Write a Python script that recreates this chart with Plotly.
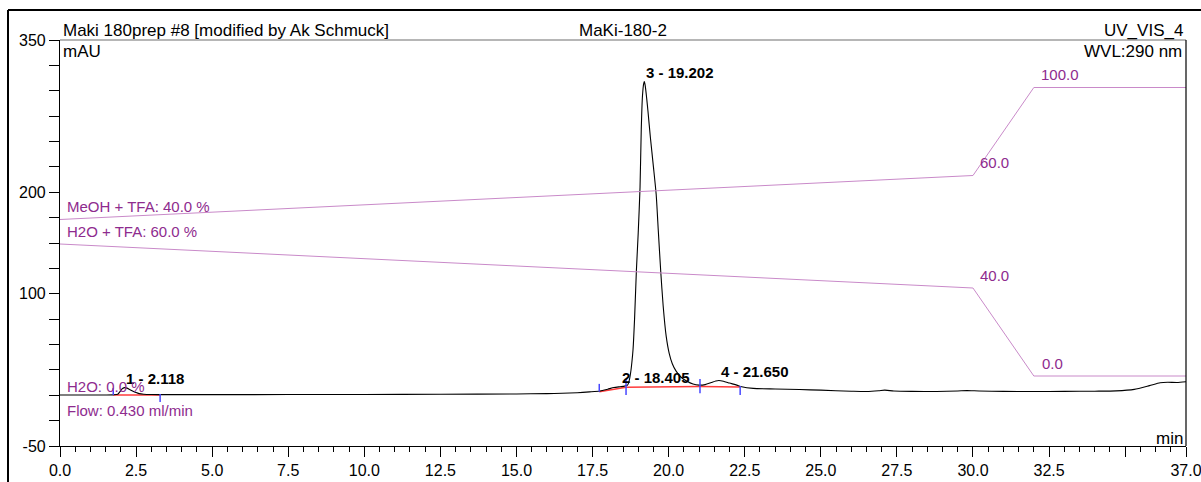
import numpy as np
import plotly.graph_objects as go

# ---- detector trace, UV_VIS_4 (290 nm) ----
time_min = [
    0.0, 0.5, 1.0, 1.5, 1.75, 1.9, 1.97, 2.03, 2.118, 2.2, 2.3, 2.4, 2.5, 2.6, 2.75,
    3.0, 3.5, 5.0, 7.5, 10.0, 12.5, 15.0, 16.0, 16.5, 17.0, 17.4, 17.75, 18.0, 18.2,
    18.405, 18.55, 18.65, 18.70, 18.75, 18.79, 18.83, 18.88, 18.94, 19.00, 19.06,
    19.10, 19.14, 19.18, 19.202, 19.23, 19.28, 19.32, 19.40, 19.50, 19.59, 19.66,
    19.74, 19.82, 19.92, 20.02, 20.12, 20.24, 20.40, 20.59, 20.80, 21.0, 21.2, 21.4,
    21.55, 21.65, 21.8, 22.0, 22.24, 22.4, 22.78, 23.5, 24.3, 25.0, 26.0, 26.5, 26.9,
    27.1, 27.4, 28.0, 28.8, 29.5, 29.8, 30.2, 31.0, 32.0, 33.0, 34.0, 34.7, 35.3,
    35.8, 36.15, 36.4, 36.7, 37.0,
]
signal_mau = [
    0.3, 0.3, 0.3, 0.3, 0.4, 1.0, 3.5, 6.0, 7.5, 7.0, 5.5, 4.0, 2.6, 1.6, 1.0,
    0.7, 0.6, 0.6, 0.7, 0.8, 1.0, 1.3, 1.6, 2.0, 2.5, 3.3, 4.2, 6.0, 7.6,
    8.4, 9.0, 10.0, 14.0, 22.0, 32.0, 45.0, 75.0, 123.0, 160.0, 205.0,
    262.0, 295.0, 307.0, 309.0, 305.0, 292.0, 280.0, 254.0, 225.0, 198.0, 162.0,
    122.0, 88.0, 58.0, 41.0, 31.0, 24.0, 18.0, 14.0, 11.0, 10.0, 10.5, 12.5,
    14.0, 14.5, 13.8, 12.0, 10.0, 8.4, 6.8, 6.2, 5.6, 5.0, 4.0, 3.7, 4.4,
    5.0, 4.2, 3.8, 3.7, 4.2, 4.6, 4.2, 3.8, 3.7, 3.8, 4.0, 4.3, 5.8,
    9.5, 12.3, 12.8, 12.5, 13.3,
]

# ---- gradient program ----
grad_time = [0.0, 30.0, 32.0, 37.0]
meoh_tfa_pct = [40.0, 60.0, 100.0, 100.0]
h2o_tfa_pct = [60.0, 40.0, 0.0, 0.0]

# ---- integration results ----
peak_no = [1, 2, 3, 4]
peak_rt = [2.118, 18.405, 19.202, 21.650]

delim_time = [1.75, 3.29, 17.72, 18.60, 21.03, 22.35]
delim_low = [0.3, -6.6, 3.5, 0.3, 1.9, 0.3]
delim_high = [7.2, 1.3, 11.2, 16.0, 16.0, 9.1]

base1_time = [1.75, 3.29]
base1_mau = [0.3, 0.3]
base2_time = [17.72, 18.60, 21.03, 22.35]
base2_mau = [3.5, 7.8, 8.5, 8.2]

# ---- axis ticks ----
x_ticks = [0.0, 2.5, 5.0, 7.5, 10.0, 12.5, 15.0, 17.5, 20.0, 22.5, 25.0,
           27.5, 30.0, 32.5, 35.0, 37.0]
x_tick_text = ["0.0", "2.5", "5.0", "7.5", "10.0", "12.5", "15.0", "17.5", "20.0",
               "22.5", "25.0", "27.5", "30.0", "32.5", "", "37.0"]
y_ticks = list(range(-50, 351, 25))
y_labelled = {350: "350", 200: "200", 100: "100", -50: "-50"}
y_tick_text = [y_labelled.get(v, "") for v in y_ticks]

FONT = "Liberation Sans, Arial, sans-serif"
PURPLE_TXT = "#8e2b8e"
PURPLE_LN = "#c98ac9"
DELIM = "#4747ff"

# plot-area geometry in pixels
W, H = 1201, 482
L, R, T, B = 60, 1186, 40, 446


def px_x(px):
    return (px - L) / (R - L)


def px_y(py):
    return (B - py) / (B - T)


fig = go.Figure()

# gradient curves on their own percent scales
fig.add_trace(go.Scatter(x=grad_time, y=meoh_tfa_pct, mode="lines", yaxis="y2",
                         line=dict(color=PURPLE_LN, width=1), hoverinfo="skip"))
fig.add_trace(go.Scatter(x=grad_time, y=h2o_tfa_pct, mode="lines", yaxis="y3",
                         line=dict(color=PURPLE_LN, width=1), hoverinfo="skip"))

# peak baselines
fig.add_trace(go.Scatter(x=base1_time, y=base1_mau, mode="lines",
                         line=dict(color="#ff3b3b", width=1.5)))
fig.add_trace(go.Scatter(x=base2_time, y=base2_mau, mode="lines",
                         line=dict(color="#ff3b3b", width=1.5)))

# chromatogram
fig.add_trace(go.Scatter(x=time_min, y=signal_mau, mode="lines",
                         line=dict(color="black", width=1.1, shape="spline", smoothing=0.6)))

# peak delimiters
dx, dy = [], []
for t, lo, hi in zip(delim_time, delim_low, delim_high):
    dx += [t, t, None]
    dy += [lo, hi, None]
fig.add_trace(go.Scatter(x=dx, y=dy, mode="lines", line=dict(color=DELIM, width=1.5)))

ann = []

# peak labels
peak_h = np.interp(peak_rt, time_min, signal_mau)
for n, rt, h in zip(peak_no, peak_rt, peak_h):
    ann.append(dict(x=rt, y=h, xref="x", yref="y", text=f"{n} - {rt:.3f}",
                    xanchor="left", yanchor="middle", yshift=9, showarrow=False,
                    font=dict(family=FONT, size=15, color="black", weight="bold")))

# gradient step labels
for t, p, xs in [(30.0, 60.0, 5), (32.0, 100.0, 5)]:
    ann.append(dict(x=t, y=p, xref="x", yref="y2", text=f"{p:.1f}", xanchor="left",
                    yanchor="middle", xshift=xs, yshift=13, showarrow=False,
                    font=dict(family=FONT, size=15, color=PURPLE_TXT)))
for t, p, xs in [(30.0, 40.0, 5), (32.0, 0.0, 6)]:
    ann.append(dict(x=t, y=p, xref="x", yref="y3", text=f"{p:.1f}", xanchor="left",
                    yanchor="middle", xshift=xs, yshift=13, showarrow=False,
                    font=dict(family=FONT, size=15, color=PURPLE_TXT)))

# gradient / pump information on the left
for txt, yc in [(f"MeOH + TFA: {meoh_tfa_pct[0]:.1f} %", 206.7),
                (f"H2O + TFA: {h2o_tfa_pct[0]:.1f} %", 231.7),
                ("H2O: 0.0 %", 386.7),
                ("Flow: 0.430 ml/min", 410.5)]:
    ann.append(dict(x=px_x(65), y=px_y(yc), xref="paper", yref="paper", text=txt,
                    xanchor="left", yanchor="middle", showarrow=False,
                    font=dict(family=FONT, size=15, color=PURPLE_TXT)))

# header texts and axis units
for txt, xp, anchor, yc in [("Maki 180prep #8 [modified by Ak Schmuck]", 61, "left", 31),
                            ("MaKi-180-2", 622.5, "center", 31),
                            ("UV_VIS_4", 1185, "right", 31),
                            ("mAU", 61, "left", 51),
                            ("WVL:290 nm", 1184, "right", 51),
                            ("min", 1185, "right", 438.5)]:
    ann.append(dict(x=px_x(xp), y=px_y(yc), xref="paper", yref="paper", text=txt,
                    xanchor=anchor, yanchor="middle", showarrow=False,
                    font=dict(family=FONT, size=17, color="black")))

shapes = [
    # frame of the plot area
    dict(type="line", xref="paper", yref="paper", x0=0, x1=1, y0=1, y1=1,
         line=dict(color="#6e6e6e", width=1.2)),
    dict(type="line", xref="paper", yref="paper", x0=1, x1=1, y0=0, y1=1,
         line=dict(color="black", width=1.2)),
    # outer page border
    dict(type="line", xref="paper", yref="paper", x0=px_x(8), x1=px_x(1215),
         y0=px_y(10), y1=px_y(10), line=dict(color="black", width=2)),
    dict(type="line", xref="paper", yref="paper", x0=px_x(8), x1=px_x(8),
         y0=px_y(10), y1=px_y(500), line=dict(color="black", width=2)),
]

meoh_top = (307.5 - T) / 2.2
meoh_bot = (307.5 - B) / 2.2
h2o_top = (376.0 - T) / 2.2
h2o_bot = (376.0 - B) / 2.2

fig.update_layout(
    width=W, height=H, autosize=False,
    margin=dict(l=L, r=W - R, t=T, b=H - B, pad=0, autoexpand=False),
    paper_bgcolor="white", plot_bgcolor="white",
    showlegend=False,
    font=dict(family=FONT, size=16, color="black"),
    xaxis=dict(range=[0, 37], tickmode="array", tickvals=x_ticks, ticktext=x_tick_text,
               ticks="outside", ticklen=10, tickwidth=1, tickcolor="black",
               showline=True, linecolor="black", linewidth=1.2, showgrid=False,
               zeroline=False, tickfont=dict(size=16), automargin=False,
               ticklabeloverflow="allow",
               minor=dict(tickmode="linear", tick0=0, dtick=0.5, ticks="outside",
                          ticklen=5, tickwidth=1, tickcolor="black", showgrid=False)),
    yaxis=dict(range=[-50, 350], tickmode="array", tickvals=y_ticks, ticktext=y_tick_text,
               ticks="outside", ticklen=10, tickwidth=1, tickcolor="black",
               showline=True, linecolor="black", linewidth=1.2, showgrid=False,
               zeroline=False, tickfont=dict(size=16), automargin=False,
               ticklabeloverflow="allow"),
    yaxis2=dict(range=[meoh_bot, meoh_top], overlaying="y", visible=False),
    yaxis3=dict(range=[h2o_bot, h2o_top], overlaying="y", visible=False),
    annotations=ann,
    shapes=shapes,
)

fig.write_html("out.html")
